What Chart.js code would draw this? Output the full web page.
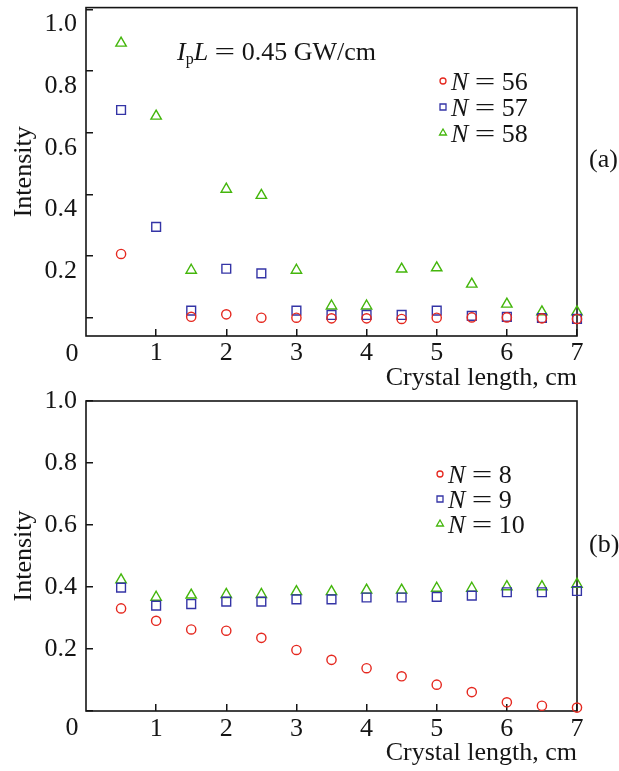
<!DOCTYPE html>
<html lang="en">

<head>
    <title>Intensity vs crystal length</title>
    <meta charset="utf-8">
    <script src="https://cdn.jsdelivr.net/npm/chart.js"></script>
    <style>
        body { margin: 0; background: #fff; }
        canvas { position: absolute; left: 0; }
        #chartA { top: 0; }
        #chartB { top: 380px; }
    </style>
</head>

<body>
    <canvas id="chartA" width="619" height="392"></canvas>
    <canvas id="chartB" width="619" height="391"></canvas>

    <script>
        const lengths = [0.5, 1, 1.5, 2, 2.5, 3, 3.5, 4, 4.5, 5, 5.5, 6, 6.5, 7];
        const xTicks = [1, 2, 3, 4, 5, 6, 7];
        const xTickLabels = ['1', '2', '3', '4', '5', '6', '7'];
        const yTicks = [0, 0.2, 0.4, 0.6, 0.8, 1.0];
        const yTickLabels = ['0', '0.2', '0.4', '0.6', '0.8', '1.0'];

        // panel (a): IpL = 0.45 GW/cm
        const n56 = [0.207, null, 0.003, 0.011, 0, 0, -0.002, -0.002, -0.004, 0, 0.001, 0.001, -0.002, -0.004];
        const n57 = [0.674, 0.295, 0.023, 0.159, 0.144, 0.023, 0.009, 0.009, 0.009, 0.023, 0.006, 0.003, -0.001, -0.004];
        const n58 = [0.891, 0.654, 0.154, 0.417, 0.397, 0.154, 0.038, 0.038, 0.158, 0.162, 0.109, 0.044, 0.019, 0.019];

        // panel (b): IpL = 5.7 GW/cm
        const n8 = [0.331, 0.291, 0.263, 0.259, 0.236, 0.197, 0.165, 0.138, 0.112, 0.085, 0.061, 0.028, 0.017, 0.011];
        const n9 = [0.398, 0.340, 0.345, 0.353, 0.353, 0.360, 0.360, 0.366, 0.366, 0.368, 0.372, 0.383, 0.383, 0.387];
        const n10 = [0.423, 0.367, 0.374, 0.376, 0.376, 0.385, 0.385, 0.390, 0.390, 0.396, 0.396, 0.401, 0.401, 0.409];

        const RED = '#e5281f';
        const BLUE = '#3434a6';
        const GREEN = '#44b60c';
        const FAMILY = "'Liberation Serif', 'Times New Roman', serif";
        const INK = '#151515';

        Chart.defaults.font.family = FAMILY;
        Chart.defaults.color = INK;

        const serif = (size, italic) => (italic ? 'italic ' : '') + size + 'px ' + FAMILY;

        function toPoints(values) {
            return lengths.map((x, i) => ({ x: x, y: values[i] }));
        }

        function marker(ctx, style, x, y, r) {
            ctx.beginPath();
            if (style === 'circle') {
                ctx.arc(x, y, r, 0, Math.PI * 2);
            } else if (style === 'rect') {
                ctx.rect(x - r, y - r, 2 * r, 2 * r);
            } else {
                ctx.moveTo(x, y - r);
                ctx.lineTo(x + r * 0.866, y + r / 2);
                ctx.lineTo(x - r * 0.866, y + r / 2);
                ctx.closePath();
            }
            ctx.stroke();
        }

        // draws pieces of text with different fonts one after another
        // (sx stretches a piece sideways, used for the wide math "=")
        function richText(ctx, parts, x, y) {
            parts.forEach(p => {
                const sx = p.sx || 1;
                ctx.font = p.font;
                ctx.save();
                ctx.translate(x, y + (p.dy || 0));
                ctx.scale(sx, 1);
                ctx.fillText(p.text, 0, 0);
                ctx.restore();
                x += ctx.measureText(p.text).width * sx;
            });
        }

        const equals = [
            { text: ' ', font: serif(26) },
            { text: '=', font: serif(26), sx: 1.4 },
            { text: ' ', font: serif(26) }
        ];

        function makeChart(id, cfg) {
            const styles = ['circle', 'rect', 'triangle'];
            const colors = [RED, BLUE, GREEN];
            const radii = [4.6, 6.2, 6];

            const decor = {
                id: 'decor',
                beforeDatasetsDraw(chart) {
                    const { ctx, chartArea: a } = chart;
                    ctx.save();
                    ctx.strokeStyle = INK;
                    ctx.lineWidth = 1.6;
                    ctx.strokeRect(a.left, a.top, a.right - a.left, a.bottom - a.top);
                    ctx.restore();
                },
                afterDraw(chart) {
                    const { ctx, chartArea: a } = chart;
                    ctx.save();
                    ctx.fillStyle = INK;
                    ctx.textBaseline = 'alphabetic';
                    ctx.textAlign = 'left';

                    // IpL annotation
                    richText(ctx, [
                        { text: 'I', font: serif(26, true) },
                        { text: 'p', font: serif(16), dy: 4 },
                        { text: 'L', font: serif(26, true) },
                        ...equals,
                        { text: cfg.note + ' GW/cm', font: serif(26) }
                    ], cfg.noteX, cfg.noteY);

                    // legend
                    cfg.names.forEach((name, i) => {
                        const y = cfg.legendY + i * cfg.legendStep;
                        ctx.strokeStyle = colors[i];
                        ctx.lineWidth = 1.3;
                        marker(ctx, styles[i], cfg.legendX, y, i === 2 ? 4 : 3);
                        ctx.fillStyle = INK;
                        richText(ctx, [
                            { text: 'N', font: serif(26, true) },
                            ...equals,
                            { text: name, font: serif(26) }
                        ], cfg.legendX + 8, y + 9);
                    });

                    // panel letter
                    ctx.font = serif(26);
                    ctx.textBaseline = 'middle';
                    ctx.fillText(cfg.panel, 589, cfg.panelY);

                    // shared origin label
                    ctx.textAlign = 'center';
                    ctx.fillText(yTickLabels[0], a.left - 14, a.bottom + cfg.zeroDy);
                    ctx.restore();
                }
            };

            const noPad = s => {
                s.paddingTop = 0;
                s.paddingBottom = 0;
                s.paddingLeft = 0;
                s.paddingRight = 0;
            };

            return new Chart(document.getElementById(id), {
                type: 'scatter',
                data: {
                    datasets: cfg.series.map((values, i) => ({
                        label: 'N = ' + cfg.names[i],
                        data: toPoints(values),
                        pointStyle: styles[i],
                        pointRadius: radii[i],
                        pointBorderWidth: 1.4,
                        borderColor: colors[i],
                        backgroundColor: 'rgba(0,0,0,0)',
                        showLine: false,
                        clip: false
                    }))
                },
                options: {
                    responsive: false,
                    animation: false,
                    layout: { padding: { top: cfg.padTop, right: 42, left: 0, bottom: 0 } },
                    plugins: {
                        legend: { display: false },
                        tooltip: { enabled: false }
                    },
                    scales: {
                        x: {
                            type: 'linear',
                            min: 0,
                            max: 7,
                            afterBuildTicks: s => { s.ticks = xTicks.map(v => ({ value: v })); },
                            afterFit: s => { s.height = cfg.xAxisHeight; noPad(s); },
                            border: { display: false },
                            grid: { drawOnChartArea: false, tickLength: -7, color: INK, lineWidth: 1.5 },
                            ticks: {
                                padding: cfg.xTickPad,
                                maxRotation: 0,
                                autoSkip: false,
                                font: { size: 26, lineHeight: 1 },
                                callback: (v, i) => xTickLabels[i]
                            },
                            title: {
                                display: true,
                                text: 'Crystal length, cm',
                                align: 'end',
                                font: { size: 26, lineHeight: 1 },
                                padding: { top: 0, bottom: cfg.xTitlePad }
                            }
                        },
                        y: {
                            min: cfg.yMin,
                            max: cfg.yMax,
                            afterBuildTicks: s => { s.ticks = yTicks.map(v => ({ value: v })); },
                            afterFit: s => { s.width = 86; noPad(s); },
                            border: { display: false },
                            grid: { drawOnChartArea: false, tickLength: -7, color: INK, lineWidth: 1.5 },
                            ticks: {
                                padding: 16,
                                autoSkip: false,
                                labelOffset: cfg.yLabelOffset,
                                font: { size: 26, lineHeight: 1 },
                                callback: (v, i) => (i === 0 ? '' : yTickLabels[i])
                            },
                            title: {
                                display: true,
                                text: 'Intensity',
                                font: { size: 26, lineHeight: 1 },
                                padding: { top: 11, bottom: 0 }
                            }
                        }
                    }
                },
                plugins: [decor]
            });
        }

        makeChart('chartA', {
            series: [n56, n57, n58],
            names: ['56', '57', '58'],
            note: '0.45',
            noteX: 177, noteY: 60,
            legendX: 443, legendY: 81, legendStep: 26,
            panel: '(a)', panelY: 160,
            padTop: 7,
            xAxisHeight: 56,
            xTickPad: 11,
            xTitlePad: 1,
            yMin: -0.0593, yMax: 1.0063,
            yLabelOffset: 15,
            zeroDy: 18
        });

        makeChart('chartB', {
            series: [n8, n9, n10],
            names: ['8', '9', '10'],
            note: '5.7',
            noteX: 185, noteY: 467,
            legendX: 440, legendY: 474 - 380, legendStep: 25,
            panel: '(b)', panelY: 545 - 380,
            padTop: 21,
            xAxisHeight: 60,
            xTickPad: 12,
            xTitlePad: 5,
            yMin: 0, yMax: 1.0,
            yLabelOffset: 0,
            zeroDy: 17
        });
    </script>
</body>

</html>
